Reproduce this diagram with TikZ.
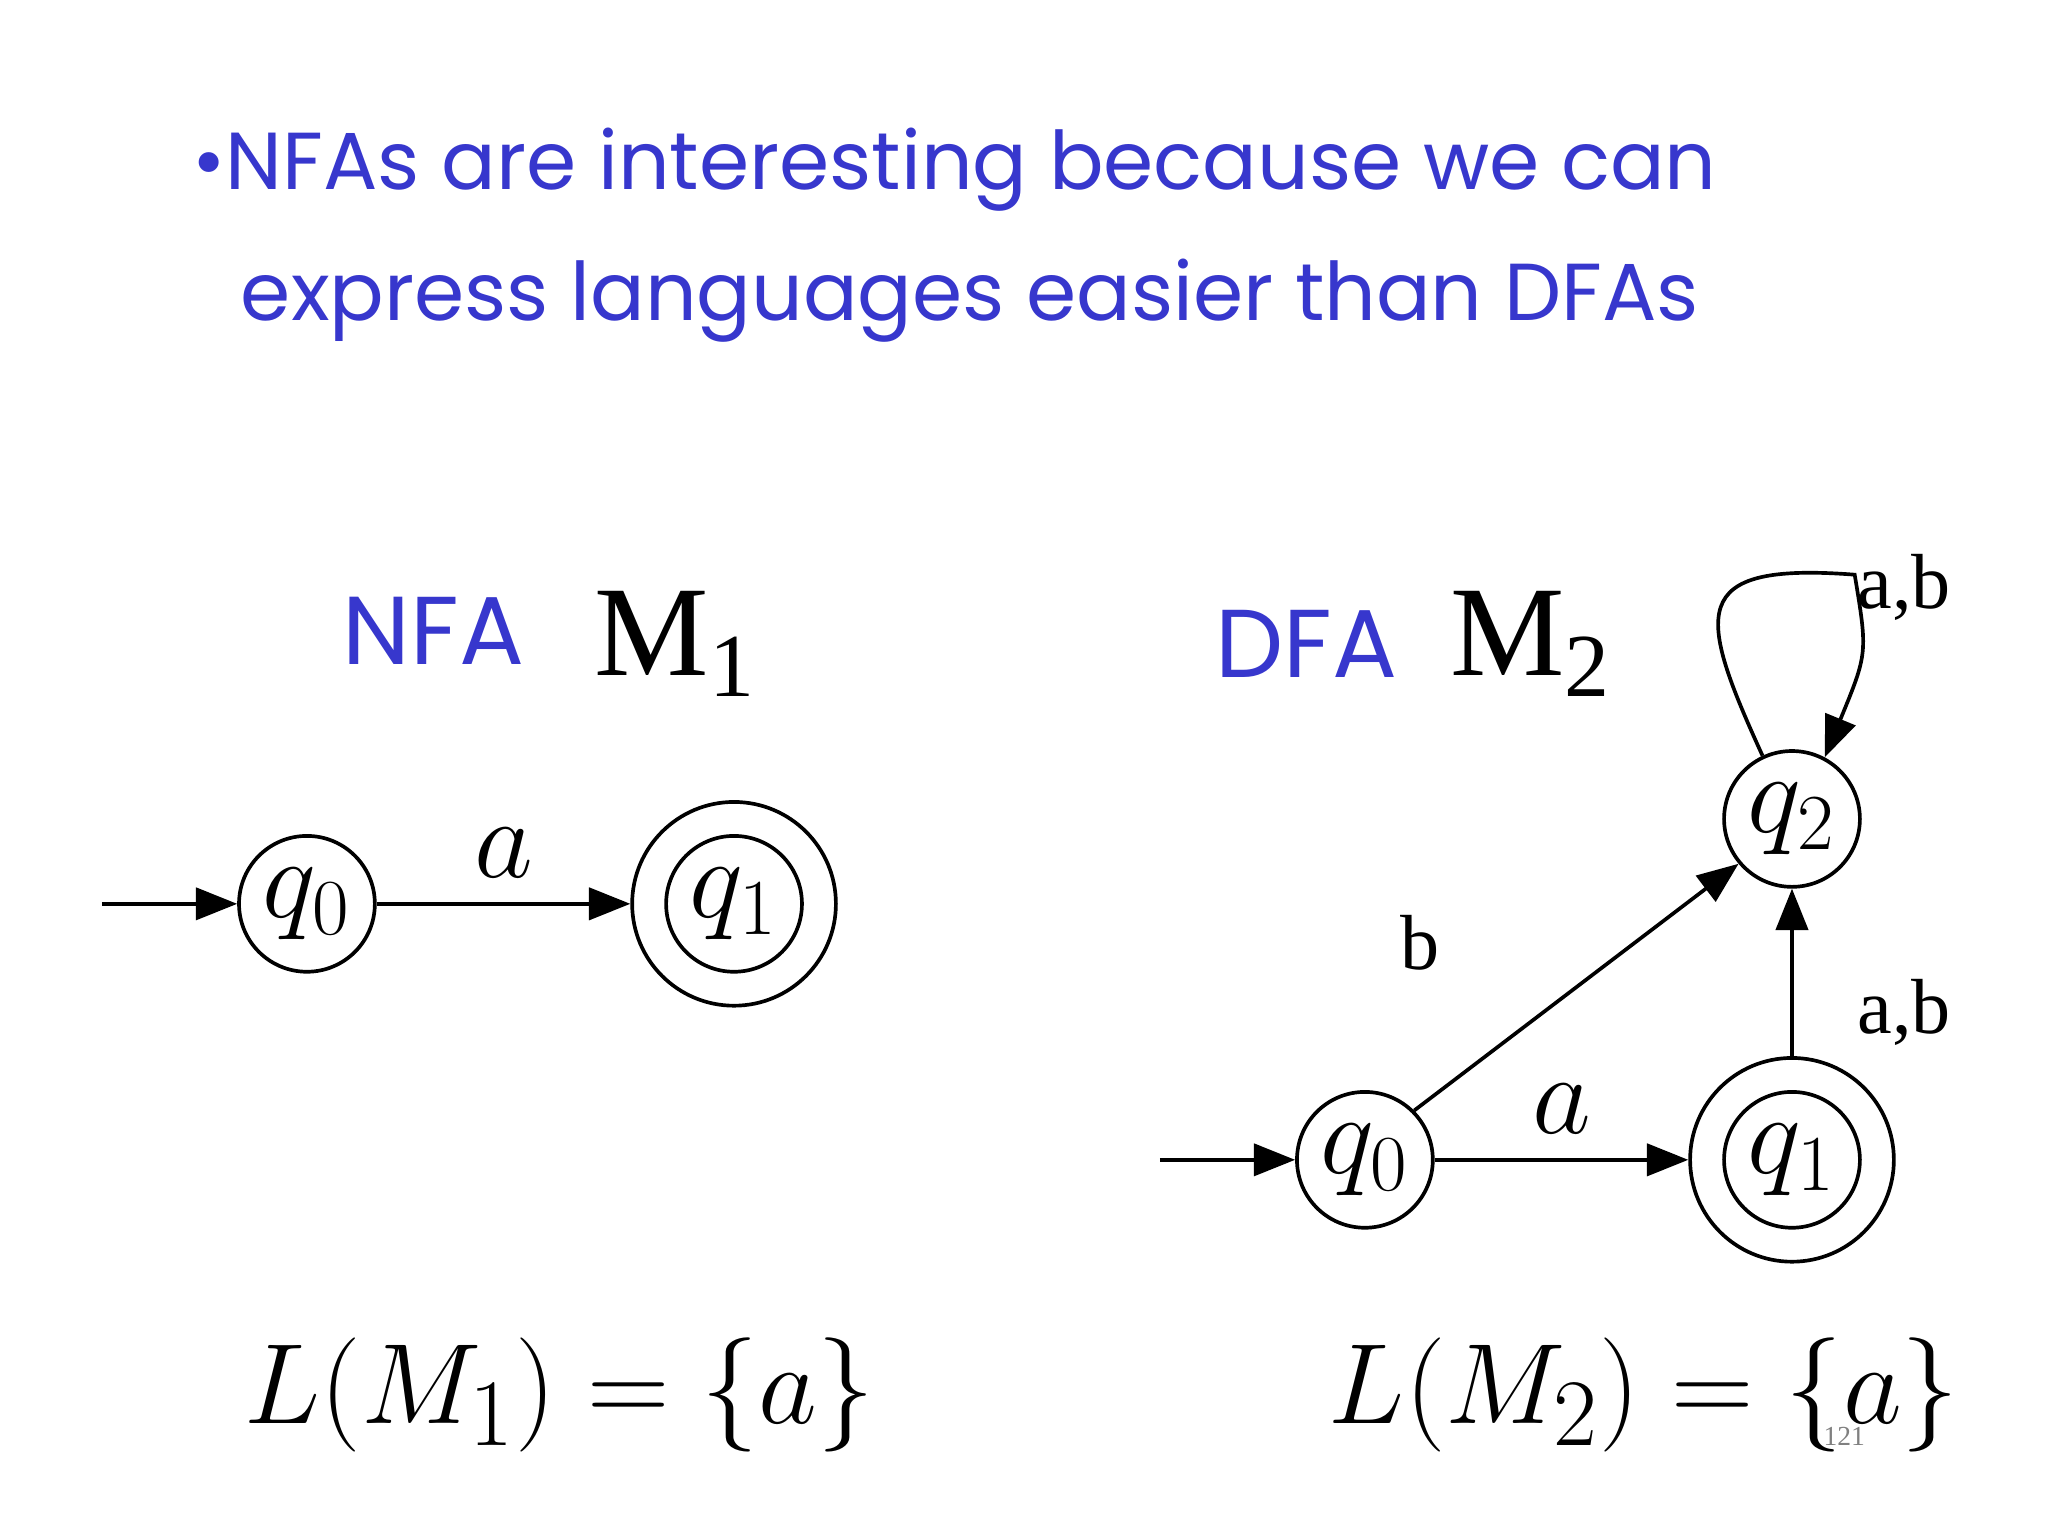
\documentclass[tikz,border=0pt]{standalone}
\usepackage{fontspec}
\setmainfont{Liberation Serif}
\newfontfamily\titlefont{Poppins}
\usetikzlibrary{arrows.meta}
\definecolor{tblue}{RGB}{55,55,205}
\begin{document}
\begin{tikzpicture}[x=0.01cm,y=-0.01cm,
  st/.style={circle,draw,line width=0.8pt,minimum size=104*0.01cm,inner sep=0pt,font=\fontsize{25}{27}\selectfont},
  ed/.style={line width=0.8pt,-{Triangle[length=9pt,width=7pt]}},
  lab/.style={font=\fontsize{17}{19}\selectfont},
  tl/.style={text=tblue,font=\titlefont\fontsize{17.6}{20}\selectfont}]
\useasboundingbox (0,0) rectangle (1568,1176);
\node[tl,anchor=west] (t1) at (135,130) {•NFAs are interesting because we can};
\node[tl,anchor=west] (t2) at (172,230) {express languages easier than DFAs};
\node[tl,anchor=west,font=\titlefont\fontsize{21}{24}\selectfont] (n1) at (250,483) {NFA};
\node[anchor=west,font=\fontsize{28}{30}\selectfont] (m1) at (443,493) {M\textsubscript{1}};
\node[tl,anchor=west,font=\titlefont\fontsize{21}{24}\selectfont] (d1) at (918,493) {DFA};
\node[anchor=west,font=\fontsize{28}{30}\selectfont] (m2) at (1098,493) {M\textsubscript{2}};
% NFA
\node[st] (a0) at (235,692) {$q_0$};
\node[circle,draw,line width=0.8pt,minimum size=156*0.01cm] (a1o) at (562,692) {};
\node[st] (a1) at (562,692) {$q_1$};
\coordinate (as) at (78,692);
\draw[ed] (as) -- (a0);
\draw[ed] (a0) -- node[above,font=\fontsize{28}{30}\selectfont,yshift=2pt]{$a$} (a1o);
% DFA
\node[st] (b0) at (1045,888) {$q_0$};
\node[circle,draw,line width=0.8pt,minimum size=156*0.01cm] (b1o) at (1372,888) {};
\node[st] (b1) at (1372,888) {$q_1$};
\node[st] (b2) at (1372,627) {$q_2$};
\coordinate (bs) at (888,888);
\draw[ed] (bs) -- (b0);
\draw[ed] (b0) -- node[above,font=\fontsize{28}{30}\selectfont,yshift=2pt]{$a$} (b1o);
\draw[ed] (b0.45) -- (b2.220);
\draw[ed] (b1o) -- (b2);
\draw[ed] (b2.115) .. controls (1300,470) and (1290,430) .. (1420,440) .. controls (1430,500) .. (b2.62);
\node[lab] (lb) at (1087,722) {b};
\node[lab] (lab1) at (1458,775) {a,b};
\node[lab] (lab2) at (1458,450) {a,b};
% languages
\node[anchor=west,font=\fontsize{30}{32}\selectfont] (l1) at (175,1068) {$L(M_1) = \{a\}$};
\node[anchor=west,font=\fontsize{30}{32}\selectfont] (l2) at (1005,1068) {$L(M_2) = \{a\}$};
\node[font=\fontsize{6}{7}\selectfont,text=gray] (pn) at (1412,1100) {121};
\end{tikzpicture}
\end{document}
